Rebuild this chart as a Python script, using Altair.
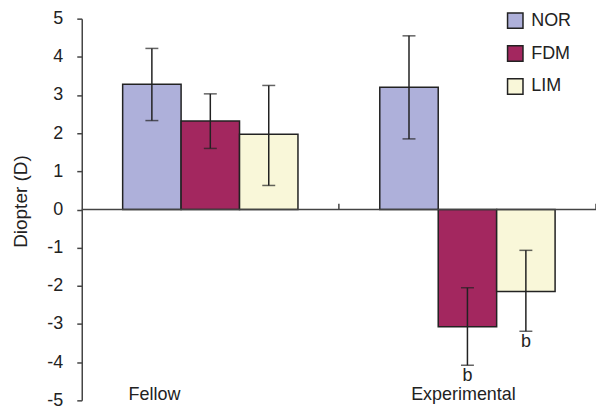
import altair as alt
import pandas as pd

groups = ["Fellow", "Fellow", "Fellow", "Experimental", "Experimental", "Experimental"]
series = ["NOR", "FDM", "LIM", "NOR", "FDM", "LIM"]
means = [3.28, 2.32, 1.97, 3.20, -3.07, -2.15]
err_hi = [4.22, 3.03, 3.25, 4.55, -2.05, -1.07]
err_lo = [2.33, 1.60, 0.63, 1.85, -4.08, -3.19]
sig = ["", "", "", "", "b", "b"]
group_order = ["Fellow", "Experimental"]
series_order = ["NOR", "FDM", "LIM"]
colors = ["#aeb0da", "#a3275f", "#f9f7d9"]
y_ticks = [-5, -4, -3, -2, -1, 0, 1, 2, 3, 4, 5]

df = pd.DataFrame({"group": groups, "series": series, "mean": means,
                   "hi": err_hi, "lo": err_lo, "sig": sig})

FONT = "Liberation Sans"
INK = "#222222"

x_enc = alt.X("group:N", sort=group_order,
              scale=alt.Scale(paddingInner=0, paddingOuter=0), axis=None)
xo_enc = alt.XOffset("series:N", sort=series_order,
                     scale=alt.Scale(paddingInner=0, paddingOuter=0.7))
y_scale = alt.Scale(domain=[-5, 5], nice=False)

Y_AXIS = alt.Axis(values=y_ticks, title="Diopter (D)", grid=False,
                  labelExpr="'' + datum.value", labelOverlap=False,
                  labelBound=False, labelFlush=False,
                  tickSize=5, tickWidth=1.5, tickColor="#444",
                  domainColor="#444", domainWidth=1.5,
                  labelFont=FONT, labelFontSize=18, labelColor=INK,
                  labelPadding=14, titleFont=FONT, titleFontSize=19,
                  titleFontWeight="normal", titleColor=INK,
                  titlePadding=16, titleY=183)


def y_enc(field):
    return alt.Y(field, scale=y_scale, axis=Y_AXIS, title="Diopter (D)")


base = alt.Chart(df)

bars = base.mark_bar(stroke=INK, strokeWidth=1.5).encode(
    x=x_enc, xOffset=xo_enc,
    y=y_enc("mean:Q"),
    y2=alt.datum(0),
    color=alt.Color("series:N", sort=series_order,
                    scale=alt.Scale(domain=series_order, range=colors),
                    legend=alt.Legend(orient="none", legendX=426, legendY=-7,
                                      title=None, symbolType="square",
                                      symbolSize=240, symbolStrokeColor=INK,
                                      symbolStrokeWidth=1.5, symbolOpacity=1,
                                      labelFont=FONT, labelFontSize=18,
                                      labelColor=INK, labelOffset=7,
                                      rowPadding=11)),
)

err = base.mark_rule(color=INK, strokeWidth=1.5).encode(
    x=x_enc, xOffset=xo_enc, y=y_enc("lo:Q"), y2="hi:Q")
cap_hi = base.mark_tick(color=INK, thickness=1.5, size=13).encode(
    x=x_enc, xOffset=xo_enc, y=y_enc("hi:Q"))
cap_lo = base.mark_tick(color=INK, thickness=1.5, size=13).encode(
    x=x_enc, xOffset=xo_enc, y=y_enc("lo:Q"))

sig_text = base.mark_text(font=FONT, fontSize=18, color=INK,
                          baseline="middle", dy=11).encode(
    x=x_enc, xOffset=xo_enc, y=y_enc("lo:Q"), text="sig:N")

zero_df = pd.DataFrame({"z": [0]})
zero_line = alt.Chart(zero_df).mark_rule(color="#444", strokeWidth=1.5).encode(
    y=y_enc("z:Q"))

tick_df = pd.DataFrame({"group": ["Experimental"], "z": [0], "t": [0.15]})
tick_a = alt.Chart(tick_df).mark_rule(color="#444", strokeWidth=1.5).encode(
    x=alt.X("group:N", sort=group_order, bandPosition=0,
            scale=alt.Scale(paddingInner=0, paddingOuter=0), axis=None),
    y=y_enc("z:Q"), y2="t:Q")
tick_b = alt.Chart(tick_df).mark_rule(color="#444", strokeWidth=1.5).encode(
    x=alt.X("group:N", sort=group_order, bandPosition=1,
            scale=alt.Scale(paddingInner=0, paddingOuter=0), axis=None),
    y=y_enc("z:Q"), y2="t:Q")

lab_df = pd.DataFrame({"group": group_order, "pos": [-4.85, -4.85]})
lab_fellow = alt.Chart(lab_df[lab_df.group == "Fellow"]).mark_text(
    font=FONT, fontSize=18, color=INK, dx=-56).encode(
    x=alt.X("group:N", sort=group_order,
            scale=alt.Scale(paddingInner=0, paddingOuter=0), axis=None),
    y=y_enc("pos:Q"), text="group:N")
lab_exp = alt.Chart(lab_df[lab_df.group == "Experimental"]).mark_text(
    font=FONT, fontSize=18, color=INK, dx=-4).encode(
    x=alt.X("group:N", sort=group_order,
            scale=alt.Scale(paddingInner=0, paddingOuter=0), axis=None),
    y=y_enc("pos:Q"), text="group:N")

chart = alt.layer(bars, zero_line, tick_a, tick_b, err, cap_hi, cap_lo,
                  sig_text, lab_fellow, lab_exp).properties(
    width=516, height=383,
    autosize=alt.AutoSizeParams(type="none"),
    padding={"left": 74, "top": 10, "right": 0, "bottom": 12},
    background="white",
).configure_view(stroke=None)

chart.save("out.html", embed_options={"renderer": "svg", "actions": False})
